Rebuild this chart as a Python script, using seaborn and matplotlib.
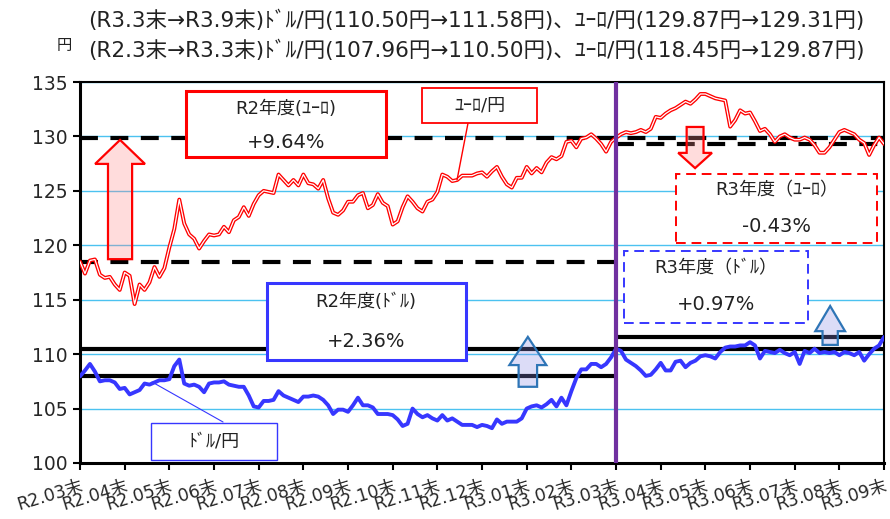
import numpy as np
import matplotlib.pyplot as plt
import matplotlib.patches as mpatches
import seaborn as sns

# =============================================================================
# ドル/円・ユーロ/円 の推移 (R2.03末 → R3.09末)
# 値はチャートから目視で読み取ったもの (1か月あたり9点)
# =============================================================================

MESES = ['R2.03末', 'R2.04末', 'R2.05末', 'R2.06末', 'R2.07末', 'R2.08末',
         'R2.09末', 'R2.10末', 'R2.11末', 'R2.12末', 'R3.01末', 'R3.02末',
         'R3.03末', 'R3.04末', 'R3.05末', 'R3.06末', 'R3.07末', 'R3.08末',
         'R3.09末']
PONTOS_MES = 9

EUR = [118.5, 117.4, 118.6, 118.7, 117.3, 117.0, 117.1, 116.4, 115.9,
       117.5, 117.2, 114.6, 116.4, 115.9, 116.6, 118.0, 117.1, 117.9,
       119.8, 121.5, 124.2, 122.0, 121.0, 120.6, 119.7, 120.4, 121.0,
       120.9, 121.0, 121.7, 121.2, 122.3, 122.6, 123.5, 122.7, 123.8,
       124.6, 125.0, 124.9, 124.8, 126.5, 126.0, 125.5, 126.0, 125.5,
       126.5, 125.7, 125.6, 125.2, 126.0, 124.3, 123.0, 122.8, 123.2,
       124.0, 124.0, 124.6, 124.8, 123.4, 123.7, 124.7, 123.9, 123.6,
       121.9, 122.2, 123.5, 124.5, 124.0, 123.4, 123.1, 124.0, 124.2,
       124.9, 126.5, 126.3, 125.9, 126.0, 126.4, 126.4, 126.4, 126.6,
       126.7, 126.3, 126.8, 127.2, 126.3, 125.6, 125.3, 126.2, 126.2,
       127.2, 126.6, 127.1, 126.7, 127.6, 128.1, 127.9, 128.2, 129.5,
       129.6, 129.0, 129.8, 129.9, 130.2, 129.8, 129.3, 128.6, 129.5,
       129.87, 130.2, 130.4, 130.3, 130.4, 130.6, 130.4, 130.7, 131.8,
       131.7, 132.1, 132.4, 132.6, 132.9, 133.2, 133.0, 133.4, 133.9,
       133.9, 133.7, 133.5, 133.4, 133.3, 130.9, 131.5, 132.4, 132.1,
       132.2, 131.4, 130.5, 130.7, 130.2, 129.5, 130.0, 130.2, 129.9,
       129.7, 129.7, 129.9, 129.7, 129.2, 128.5, 128.5, 129.0, 129.7,
       130.4, 130.6, 130.4, 130.2, 129.7, 129.4, 128.3, 129.2, 129.9,
       129.31]

USD = [107.96, 108.5, 109.1, 108.4, 107.5, 107.6, 107.6, 107.4, 106.8,
       106.9, 106.3, 106.5, 106.7, 107.3, 107.2, 107.4, 107.6, 107.6,
       107.7, 108.9, 109.5, 107.3, 107.1, 107.2, 107.0, 106.5, 107.3,
       107.4, 107.4, 107.5, 107.2, 107.1, 107.0, 107.0, 106.2, 105.2,
       105.1, 105.7, 105.7, 105.8, 106.6, 106.2, 106.0, 105.8, 105.6,
       106.1, 106.1, 106.2, 106.1, 105.8, 105.3, 104.5, 104.9, 104.9,
       104.7, 105.3, 106.0, 105.3, 105.3, 105.1, 104.5, 104.5, 104.5,
       104.4, 104.0, 103.4, 103.6, 105.0, 104.5, 104.2, 104.4, 104.1,
       103.9, 104.4, 103.9, 104.1, 103.8, 103.5, 103.5, 103.5, 103.3,
       103.5, 103.4, 103.2, 104.0, 103.6, 103.8, 103.8, 103.8, 104.1,
       105.0, 105.2, 105.3, 105.1, 105.4, 105.8, 105.2, 106.0, 105.3,
       106.6, 107.8, 108.6, 108.6, 109.1, 109.1, 108.8, 109.1, 109.7,
       110.50, 110.3, 109.5, 109.2, 108.9, 108.5, 108.0, 108.1, 108.6,
       109.2, 108.5, 108.5, 109.3, 109.4, 108.8, 109.2, 109.4, 109.8,
       109.9, 109.8, 109.6, 110.2, 110.6, 110.7, 110.7, 110.8, 110.8,
       111.1, 110.8, 109.6, 110.3, 110.2, 110.1, 110.4, 110.1, 109.9,
       110.2, 109.1, 110.3, 110.1, 110.5, 110.1, 110.2, 110.1, 110.2,
       109.9, 110.2, 110.1, 109.9, 110.2, 109.4, 110.0, 110.5, 110.8,
       111.58]

# 期末レート (タイトル記載の値)
USD_R2_INI, USD_R2_FIM, USD_R3_FIM = 107.96, 110.50, 111.58
EUR_R2_INI, EUR_R2_FIM, EUR_R3_FIM = 118.45, 129.87, 129.31

TITULO_1 = '(R3.3末→R3.9末)ﾄﾞﾙ/円(110.50円→111.58円)、ﾕｰﾛ/円(129.87円→129.31円)'
TITULO_2 = '(R2.3末→R3.3末)ﾄﾞﾙ/円(107.96円→110.50円)、ﾕｰﾛ/円(118.45円→129.87円)'

VERMELHO = '#FF0000'
AZUL = '#3737FF'
AZUL_SETA = '#2E75B6'
ROXO = '#7030A0'


def caixa(ax, x0, y0, x1, y1, cor, lw, ls='-'):
    """Caixa branca de anotação em coordenadas de eixo."""
    ax.add_patch(mpatches.Rectangle((x0, y0), x1 - x0, y1 - y0, transform=ax.transAxes,
                                    facecolor='white', edgecolor=cor, lw=lw, ls=ls,
                                    zorder=6, clip_on=False))


def texto(ax, x, y, s, size=13):
    ax.text(x, y, s, transform=ax.transAxes, ha='center', va='center',
            fontsize=size, color='#222222', zorder=7)


def seta(ax, x, y0, y1, largura, cabeca, compr, borda, fundo):
    ax.add_patch(mpatches.FancyArrow(x, y0, 0, y1 - y0, width=largura, head_width=cabeca,
                                     head_length=compr, length_includes_head=True,
                                     transform=ax.transAxes, facecolor=fundo,
                                     edgecolor=borda, lw=1.6, zorder=5))


sns.set_theme(style='white')
plt.rcParams['font.family'] = ['DejaVu Sans', 'Noto Sans CJK JP']

fig = plt.figure(figsize=(8.9, 5.19), dpi=100)
ax = fig.add_axes([0.0899, 0.1079, 0.9034, 0.7341])

idx = np.arange(len(USD))
fim_r2 = MESES.index('R3.03末') * PONTOS_MES
fim = idx[-1]

# linhas de referência (início / fim de cada ano fiscal)
tracejado = (0, (4.3, 3.0))
ax.hlines(EUR_R2_INI, 0, fim_r2, colors='black', lw=3, linestyles=tracejado, zorder=2)
ax.hlines(EUR_R2_FIM, 0, fim, colors='black', lw=3, linestyles=tracejado, zorder=2)
ax.hlines(EUR_R3_FIM, fim_r2, fim, colors='black', lw=3, linestyles=tracejado, zorder=2)
ax.hlines(USD_R2_INI, 0, fim_r2, colors='black', lw=3, zorder=2)
ax.hlines(USD_R2_FIM, 0, fim, colors='black', lw=3, zorder=2)
ax.hlines(USD_R3_FIM, fim_r2, fim, colors='black', lw=3, zorder=2)

# séries
sns.lineplot(x=idx, y=EUR, color=VERMELHO, lw=2.8, ax=ax, zorder=3)
sns.lineplot(x=idx, y=EUR, color='white', lw=0.9, ax=ax, zorder=3)
sns.lineplot(x=idx, y=USD, color=AZUL, lw=2.8, ax=ax, zorder=3)

ax.axvline(fim_r2, color=ROXO, lw=3, zorder=4)

ax.set_xlim(0, fim)
ax.set_ylim(100, 135)
ax.set_yticks(np.arange(100, 136, 5))
ax.set_xticks(np.arange(0, fim + 1, PONTOS_MES))
ax.set_xticklabels(MESES, rotation=17, ha='right', va='top', rotation_mode='anchor', fontsize=12.5)
ax.tick_params(axis='y', labelsize=13.5, left=True, length=5, width=1.5, color='black', pad=4)
ax.tick_params(axis='x', bottom=True, length=5, width=1.5, color='black', pad=5)
ax.set_xlabel('')
ax.set_ylabel('')

ax.grid(axis='y', color='#4CC2F0', lw=1)
ax.grid(axis='x', visible=False)
ax.set_axisbelow(True)
for lado, lw in [('left', 2.2), ('bottom', 2.2), ('top', 1.5), ('right', 1.5)]:
    ax.spines[lado].set_color('black')
    ax.spines[lado].set_linewidth(lw)

# setas de variação
seta(ax, 0.0498, 0.535, 0.848, 0.030, 0.062, 0.063, VERMELHO, (1.0, 0.55, 0.55, 0.3))
seta(ax, 0.765, 0.882, 0.774, 0.021, 0.042, 0.040, VERMELHO, (1.0, 0.55, 0.55, 0.3))
seta(ax, 0.557, 0.200, 0.331, 0.023, 0.046, 0.074, AZUL_SETA, (0.55, 0.55, 0.9, 0.3))
seta(ax, 0.933, 0.310, 0.412, 0.019, 0.037, 0.066, AZUL_SETA, (0.55, 0.55, 0.9, 0.3))

# caixas de anotação
caixa(ax, 0.1318, 0.8031, 0.3806, 0.9764, VERMELHO, 2.2)
texto(ax, 0.256, 0.930, 'R2年度(ﾕｰﾛ)')
texto(ax, 0.256, 0.8425, '+9.64%', 14)

caixa(ax, 0.4254, 0.8924, 0.5684, 0.9843, VERMELHO, 1.3)
texto(ax, 0.497, 0.938, 'ﾕｰﾛ/円')
ax.plot([0.4826, 0.4689], [0.8924, 0.7428], transform=ax.transAxes, color=VERMELHO, lw=1, zorder=5)

caixa(ax, 0.7413, 0.5774, 0.9913, 0.7585, VERMELHO, 1.4, (0, (5, 3)))
texto(ax, 0.866, 0.7165, 'R3年度（ﾕｰﾛ）')
texto(ax, 0.866, 0.622, '-0.43%', 14)

caixa(ax, 0.6766, 0.3675, 0.9055, 0.5564, AZUL, 1.4, (0, (5, 3)))
texto(ax, 0.791, 0.5118, 'R3年度（ﾄﾞﾙ）')
texto(ax, 0.791, 0.4173, '+0.97%', 14)

caixa(ax, 0.2326, 0.2703, 0.4801, 0.4724, AZUL, 2.2)
texto(ax, 0.356, 0.4226, 'R2年度(ﾄﾞﾙ)')
texto(ax, 0.356, 0.3202, '+2.36%', 14)

caixa(ax, 0.0883, 0.0079, 0.2450, 0.1050, AZUL, 1.0)
texto(ax, 0.1667, 0.056, 'ﾄﾞﾙ/円')
ax.plot([0.1779, 0.0896], [0.1076, 0.2126], transform=ax.transAxes, color=AZUL, lw=0.8, zorder=5)

# títulos
fig.text(0.535, 0.961, TITULO_1, ha='center', va='center', fontsize=15.5, color='#222222')
fig.text(0.535, 0.904, TITULO_2, ha='center', va='center', fontsize=15.5, color='#222222')
fig.text(0.072, 0.913, '円', ha='center', va='center', fontsize=11, color='#222222')

fig.savefig('out.png', dpi=100)
plt.close(fig)
